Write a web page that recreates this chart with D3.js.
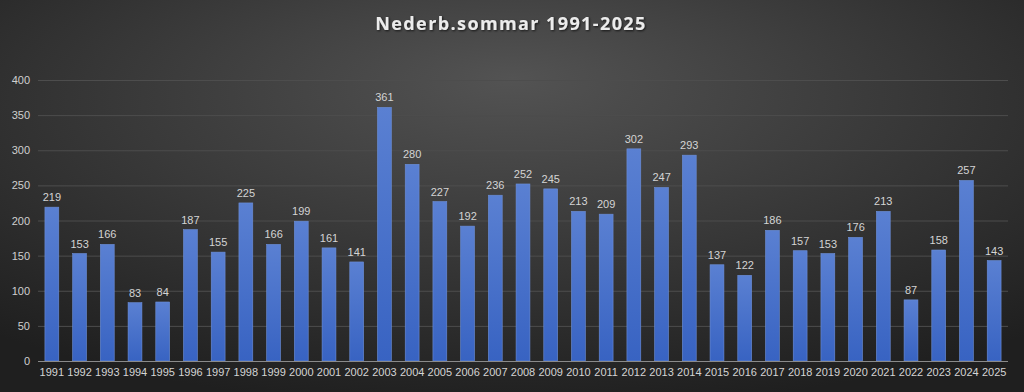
<!DOCTYPE html>
<html><head><meta charset="utf-8">
<script src="https://cdn.jsdelivr.net/npm/d3@7"></script>
<style>body{margin:0;background:#222;}svg{display:block;}</style>
</head><body>
<script>
const years = ["1991","1992","1993","1994","1995","1996","1997","1998","1999","2000","2001","2002","2003","2004","2005","2006","2007","2008","2009","2010","2011","2012","2013","2014","2015","2016","2017","2018","2019","2020","2021","2022","2023","2024","2025"];
const values = [219,153,166,83,84,187,155,225,166,199,161,141,361,280,227,192,236,252,245,213,209,302,247,293,137,122,186,157,153,176,213,87,158,257,143];
const yTicks = [0,50,100,150,200,250,300,350,400];
const title = "Nederb.sommar 1991-2025";

const W=1024,H=392;
const svg=d3.select("body").append("svg").attr("width",W).attr("height",H);
const defs=svg.append("defs");
const rg=defs.append("radialGradient").attr("id","bg").attr("cx","50%").attr("cy","30%").attr("r","75%").attr("fx","50%").attr("fy","20%");
rg.append("stop").attr("offset","0%").attr("stop-color","#535353");
rg.append("stop").attr("offset","100%").attr("stop-color","#1f1f1f");
const bg=defs.append("linearGradient").attr("id","bar").attr("x1",0).attr("y1",0).attr("x2",0).attr("y2",1);
bg.append("stop").attr("offset","0%").attr("stop-color","#5a80d2");
bg.append("stop").attr("offset","100%").attr("stop-color","#3863c2");
const f=defs.append("filter").attr("id","sh").attr("x","-10%").attr("y","-30%").attr("width","120%").attr("height","160%");
f.append("feDropShadow").attr("dx",1).attr("dy",1).attr("stdDeviation",1).attr("flood-color","#000").attr("flood-opacity",0.7);

svg.append("rect").attr("width",W).attr("height",H).attr("fill","url(#bg)");

const x=d3.scaleBand().domain(years).range([38,1008]).paddingInner(0.5).paddingOuter(0.25);
const y=d3.scaleLinear().domain([0,400]).range([361,80]);

svg.append("g").selectAll("line").data(yTicks.filter(d=>d>0)).join("line")
 .attr("x1",38).attr("x2",1008).attr("y1",d=>y(d)+0.5).attr("y2",d=>y(d)+0.5)
 .attr("stroke","#4d4d4d").attr("stroke-width",1);

const ya=svg.append("g").attr("transform","translate(30,0)")
 .call(d3.axisLeft(y).tickValues(yTicks).tickSize(0).tickPadding(0));
ya.select(".domain").remove();
ya.selectAll("text").attr("fill","#cfcfcf").style("font-family","Liberation Sans, Arial, sans-serif").style("font-size","11px");

svg.append("g").selectAll("rect").data(values).join("rect")
 .attr("x",(d,i)=>x(years[i])).attr("width",x.bandwidth())
 .attr("y",d=>y(d)).attr("height",d=>y(0)-y(d))
 .attr("fill","url(#bar)").attr("stroke","#6d8fd8").attr("stroke-width",0.6);

svg.append("g").selectAll("text").data(values).join("text")
 .attr("x",(d,i)=>x(years[i])+x.bandwidth()/2).attr("y",d=>y(d)-6)
 .attr("text-anchor","middle").attr("fill","#d4d4d4")
 .style("font-family","Liberation Sans, Arial, sans-serif").style("font-size","11px")
 .text(d=>d);

svg.append("line").attr("x1",38).attr("x2",1008).attr("y1",y(0)+0.5).attr("y2",y(0)+0.5).attr("stroke","#8a8a8a").attr("stroke-width",1);

const xa=svg.append("g").attr("transform",`translate(0,${y(0)})`)
 .call(d3.axisBottom(x).tickSize(0).tickPadding(7));
xa.select(".domain").remove();
xa.selectAll("text").attr("fill","#d4d4d4").style("font-family","Liberation Sans, Arial, sans-serif").style("font-size","11px");

svg.append("text").attr("x",511).attr("y",30).attr("text-anchor","middle")
 .attr("fill","#ececec").attr("filter","url(#sh)")
 .style("font-family","Open Sans, Liberation Sans, sans-serif").style("font-weight","bold").style("font-size","18px").style("letter-spacing","1.4px")
 .text(title);
</script>
</body></html>
